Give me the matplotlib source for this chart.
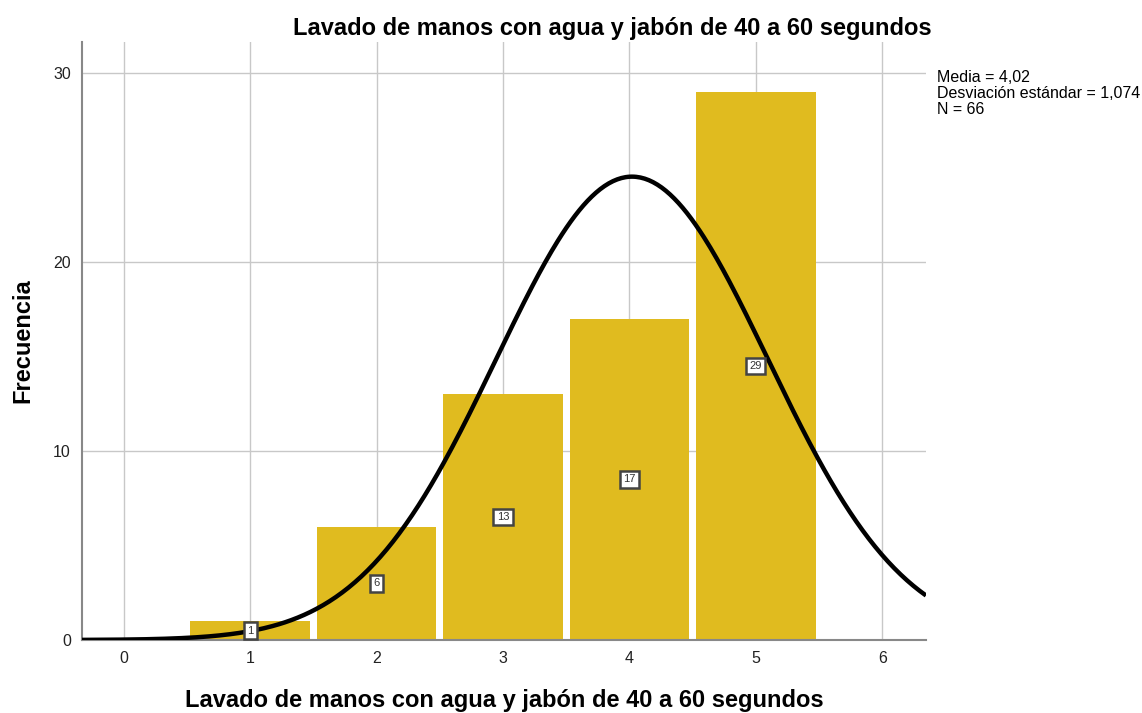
import numpy as np
import matplotlib.pyplot as plt

plt.rcParams['font.family'] = ['Liberation Sans', 'DejaVu Sans']

# datos del histograma
categorias = [1, 2, 3, 4, 5]
frecuencias = [1, 6, 13, 17, 29]
media = 4.02
desv = 1.074
n = 66
titulo = "Lavado de manos con agua y jabón de 40 a 60 segundos"

fig = plt.figure(figsize=(11.42, 7.13), dpi=100)
ax = fig.add_axes([82 / 1142, 1 - 640 / 713, (926 - 82) / 1142, (640 - 42) / 713])

ax.bar(categorias, frecuencias, width=0.945, color="#E0BB1F",
       linewidth=0, zorder=2)

# curva normal
xs = np.linspace(-0.33, 6.345, 400)
ys = n * np.exp(-0.5 * ((xs - media) / desv) ** 2) / (desv * np.sqrt(2 * np.pi))
ax.plot(xs, ys, color="black", linewidth=3.2, zorder=4, solid_capstyle="butt")

for c, f in zip(categorias, frecuencias):
    ax.text(c, f / 2, str(f), ha="center", va="center", fontsize=8, zorder=5,
            color="#333333",
            bbox=dict(boxstyle="square,pad=0.3", fc="white", ec="#444444", lw=1.8))

ax.set_xlim(-0.33, 6.345)
ax.set_ylim(0, 31.64)
ax.set_xticks(range(0, 7))
ax.set_yticks([0, 10, 20, 30])
ax.grid(True, color="#c8c8c8", linewidth=1, zorder=0)
ax.set_axisbelow(True)
for s in ["top", "right"]:
    ax.spines[s].set_visible(False)
ax.spines["left"].set_color("#888888")
ax.spines["left"].set_linewidth(1.5)
ax.spines["bottom"].set_color("#888888")
ax.spines["bottom"].set_linewidth(1.5)
ax.tick_params(length=0, labelsize=11.5, pad=8, colors="#222222")

ax.set_xlabel(titulo, fontsize=17, fontweight="bold")
ax.set_ylabel("Frecuencia", fontsize=17, fontweight="bold")
ax.xaxis.set_label_coords(0.5, -0.082)
ax.yaxis.set_label_coords(-0.056, 0.5)

fig.text(612 / 1142, 1 - 28 / 713, titulo, ha="center", va="center",
         fontsize=17, fontweight="bold")
fig.text(937 / 1142, 1 - 70 / 713,
         f"Media = {media:.2f}".replace(".", ",") + "\n" +
         f"Desviación estándar = {desv:.3f}".replace(".", ",") + "\n" +
         f"N = {n}",
         ha="left", va="top", fontsize=11.5, linespacing=1.1)

fig.savefig("out.png", dpi=100)
